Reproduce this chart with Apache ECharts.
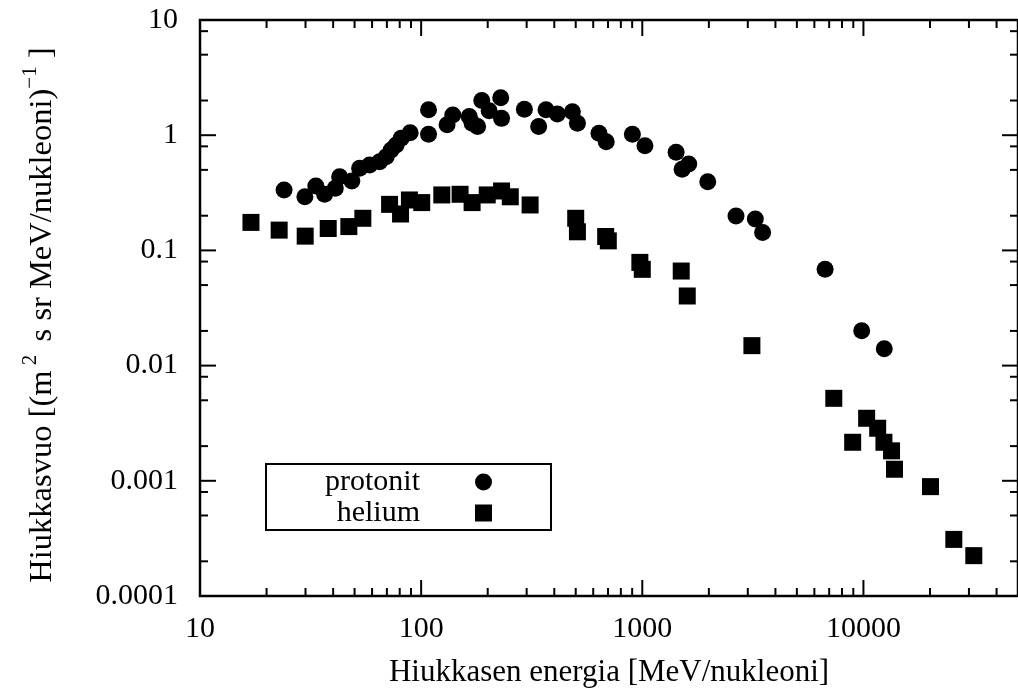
<!DOCTYPE html>
<html>
<head>
<meta charset="utf-8">
<script src="https://cdn.jsdelivr.net/npm/echarts@6/dist/echarts.min.js"></script>
<style>
html,body{margin:0;padding:0;background:#fff;}
#chart{width:1018px;height:695px;}
</style>
</head>
<body>
<div id="chart"></div>
<script>
// ---- data ----
const protonE = [24.0, 29.8, 33.4, 36.6, 40.9, 42.8, 48.6, 52.7, 58.5, 64.9, 69.5, 73.2, 77.1, 81.2, 89.2, 108, 108, 131, 139, 165, 170, 180, 188, 203, 229, 231, 293, 340, 367, 413, 483, 509, 637, 687, 902, 1028, 1422, 1514, 1622, 1977, 2653, 3245, 3500, 6710, 9820, 12420];
const protonF = [0.334, 0.292, 0.362, 0.307, 0.346, 0.436, 0.400, 0.516, 0.551, 0.589, 0.651, 0.744, 0.822, 0.940, 1.05, 1.66, 1.02, 1.23, 1.50, 1.45, 1.27, 1.19, 2.0, 1.63, 2.11, 1.40, 1.68, 1.19, 1.66, 1.53, 1.60, 1.27, 1.04, 0.879, 1.02, 0.811, 0.710, 0.506, 0.562, 0.395, 0.199, 0.1875, 0.143, 0.0686, 0.0201, 0.0140];
const heliumE = [17.0, 22.8, 29.9, 38.0, 47.1, 54.5, 72.0, 80.7, 88.5, 100.6, 124, 150, 170, 199, 231, 253, 311, 500, 509, 683, 702, 975, 1000, 1500, 1597, 3131, 7345, 8940, 10340, 11600, 12380, 13400, 13820, 20100, 25630, 31560];
const heliumF = [0.175, 0.150, 0.133, 0.155, 0.161, 0.190, 0.251, 0.207, 0.274, 0.260, 0.303, 0.307, 0.260, 0.303, 0.328, 0.292, 0.248, 0.190, 0.145, 0.132, 0.121, 0.0787, 0.0685, 0.0662, 0.0402, 0.0149, 0.00520, 0.00216, 0.00349, 0.00286, 0.00216, 0.00182, 0.00126, 0.00089, 0.000310, 0.000224];

const seriesNames = ['protonit', 'helium'];
const xTickValues = [10, 100, 1000, 10000];
const xTickLabels = ['10', '100', '1000', '10000'];
const yTickValues = [0.0001, 0.001, 0.01, 0.1, 1, 10];
const yTickLabels = ['0.0001', '0.001', '0.01', '0.1', '1', '10'];
const xMinorMultipliers = [2, 3, 4, 5, 6, 7, 8, 9];
const yMinorMultipliers = [2, 5, 8];
const X_MIN = 10, X_MAX = 50000, Y_MIN = 0.0001, Y_MAX = 10;
const xTitle = 'Hiukkasen energia [MeV/nukleoni]';

// ---- helpers ----
const FONT = 'Liberation Serif';
function pair(a, b) { return a.map((v, i) => [v, b[i]]); }
function labelFor(values, labels) {
  return function (v) {
    for (let i = 0; i < values.length; i++) {
      if (Math.abs(Math.log10(v) - Math.log10(values[i])) < 1e-6) return labels[i];
    }
    return '';
  };
}
const xTicks = [];
for (let d = 1; d <= 4; d++) {
  const base = Math.pow(10, d);
  xTicks.push([base, Y_MIN, 1]);
  xMinorMultipliers.forEach(m => { const v = base * m; if (v < X_MAX) xTicks.push([v, Y_MIN, 0]); });
}
const yTicks = [];
for (let d = -4; d <= 1; d++) {
  const base = Math.pow(10, d);
  yTicks.push([X_MIN, base, 1]);
  if (d < 1) yMinorMultipliers.forEach(m => yTicks.push([X_MIN, base * m, 0]));
}
const MAJOR_LEN = 16, MINOR_LEN = 8, TICK_W = 2;

const chart = echarts.init(document.getElementById('chart'), null, { renderer: 'canvas' });
chart.setOption({
  animation: false,
  backgroundColor: '#fff',
  grid: { left: 200, top: 20, width: 820, height: 576, show: true, borderColor: '#000', borderWidth: 2.5, backgroundColor: 'transparent' },
  legend: {
    data: [{ name: seriesNames[0], icon: 'circle' }, { name: seriesNames[1], icon: 'rect' }],
    orient: 'vertical', align: 'right', left: 266, top: 464,
    itemWidth: 17, itemHeight: 17, itemGap: 1,
    padding: [3, 59, 2, 59],
    borderColor: '#000', borderWidth: 2, borderRadius: 0,
    selectedMode: false,
    textStyle: { fontFamily: FONT, fontSize: 30, color: '#000', lineHeight: 30, padding: [0, 50, 0, 0] }
  },
  xAxis: {
    type: 'log', logBase: 10, min: X_MIN, max: X_MAX,
    axisLine: { show: false }, axisTick: { show: false }, splitLine: { show: false }, minorTick: { show: false },
    axisLabel: { formatter: labelFor(xTickValues, xTickLabels), fontFamily: FONT, fontSize: 30, color: '#000', margin: 18, showMaxLabel: false },
    name: xTitle, nameLocation: 'middle', nameGap: 61,
    nameTextStyle: { fontFamily: FONT, fontSize: 31, color: '#000' }
  },
  yAxis: {
    type: 'log', logBase: 10, min: Y_MIN, max: Y_MAX,
    axisLine: { show: false }, axisTick: { show: false }, splitLine: { show: false }, minorTick: { show: false },
    axisLabel: { formatter: labelFor(yTickValues, yTickLabels), fontFamily: FONT, fontSize: 30, color: '#000', margin: 22 },
    name: '{a|Hiukkasvuo [(m}{s| 2 }{a| s sr MeV/nukleoni)}{s|−1}{a| ]}',
    nameLocation: 'middle', nameGap: 141, nameRotate: 90,
    nameTextStyle: {
      color: '#000',
      padding: [0, 14, 0, 0],
      rich: {
        a: { fontFamily: FONT, fontSize: 32.5, verticalAlign: 'bottom', color: '#000' },
        s: { fontFamily: FONT, fontSize: 21, verticalAlign: 'top', padding: [0, 0, 18, 0], color: '#000' }
      }
    }
  },
  series: [
    {
      name: seriesNames[0], type: 'scatter', symbol: 'circle', symbolSize: 17,
      itemStyle: { color: '#000', opacity: 1 }, data: pair(protonE, protonF), z: 3
    },
    {
      name: seriesNames[1], type: 'scatter', symbol: 'rect', symbolSize: 17,
      itemStyle: { color: '#000', opacity: 1 }, data: pair(heliumE, heliumF), z: 3
    },
    {
      type: 'custom', silent: true, clip: false, z: 5,
      encode: { x: 0, y: 1 }, data: xTicks,
      renderItem: function (params, api) {
        const x = api.value(0), len = api.value(2) ? MAJOR_LEN : MINOR_LEN;
        const pb = api.coord([x, Y_MIN]), pt = api.coord([x, Y_MAX]);
        const st = { stroke: '#000', lineWidth: TICK_W };
        return { type: 'group', children: [
          { type: 'line', shape: { x1: pb[0], y1: pb[1], x2: pb[0], y2: pb[1] - len }, style: st },
          { type: 'line', shape: { x1: pt[0], y1: pt[1], x2: pt[0], y2: pt[1] + len }, style: st }
        ] };
      }
    },
    {
      type: 'custom', silent: true, clip: false, z: 5,
      encode: { x: 0, y: 1 }, data: yTicks,
      renderItem: function (params, api) {
        const y = api.value(1), len = api.value(2) ? MAJOR_LEN : MINOR_LEN;
        const pl = api.coord([X_MIN, y]), pr = api.coord([X_MAX, y]);
        const st = { stroke: '#000', lineWidth: TICK_W };
        return { type: 'group', children: [
          { type: 'line', shape: { x1: pl[0], y1: pl[1], x2: pl[0] + len, y2: pl[1] }, style: st },
          { type: 'line', shape: { x1: pr[0], y1: pr[1], x2: pr[0] - len, y2: pr[1] }, style: st }
        ] };
      }
    }
  ]
});
</script>
</body>
</html>
